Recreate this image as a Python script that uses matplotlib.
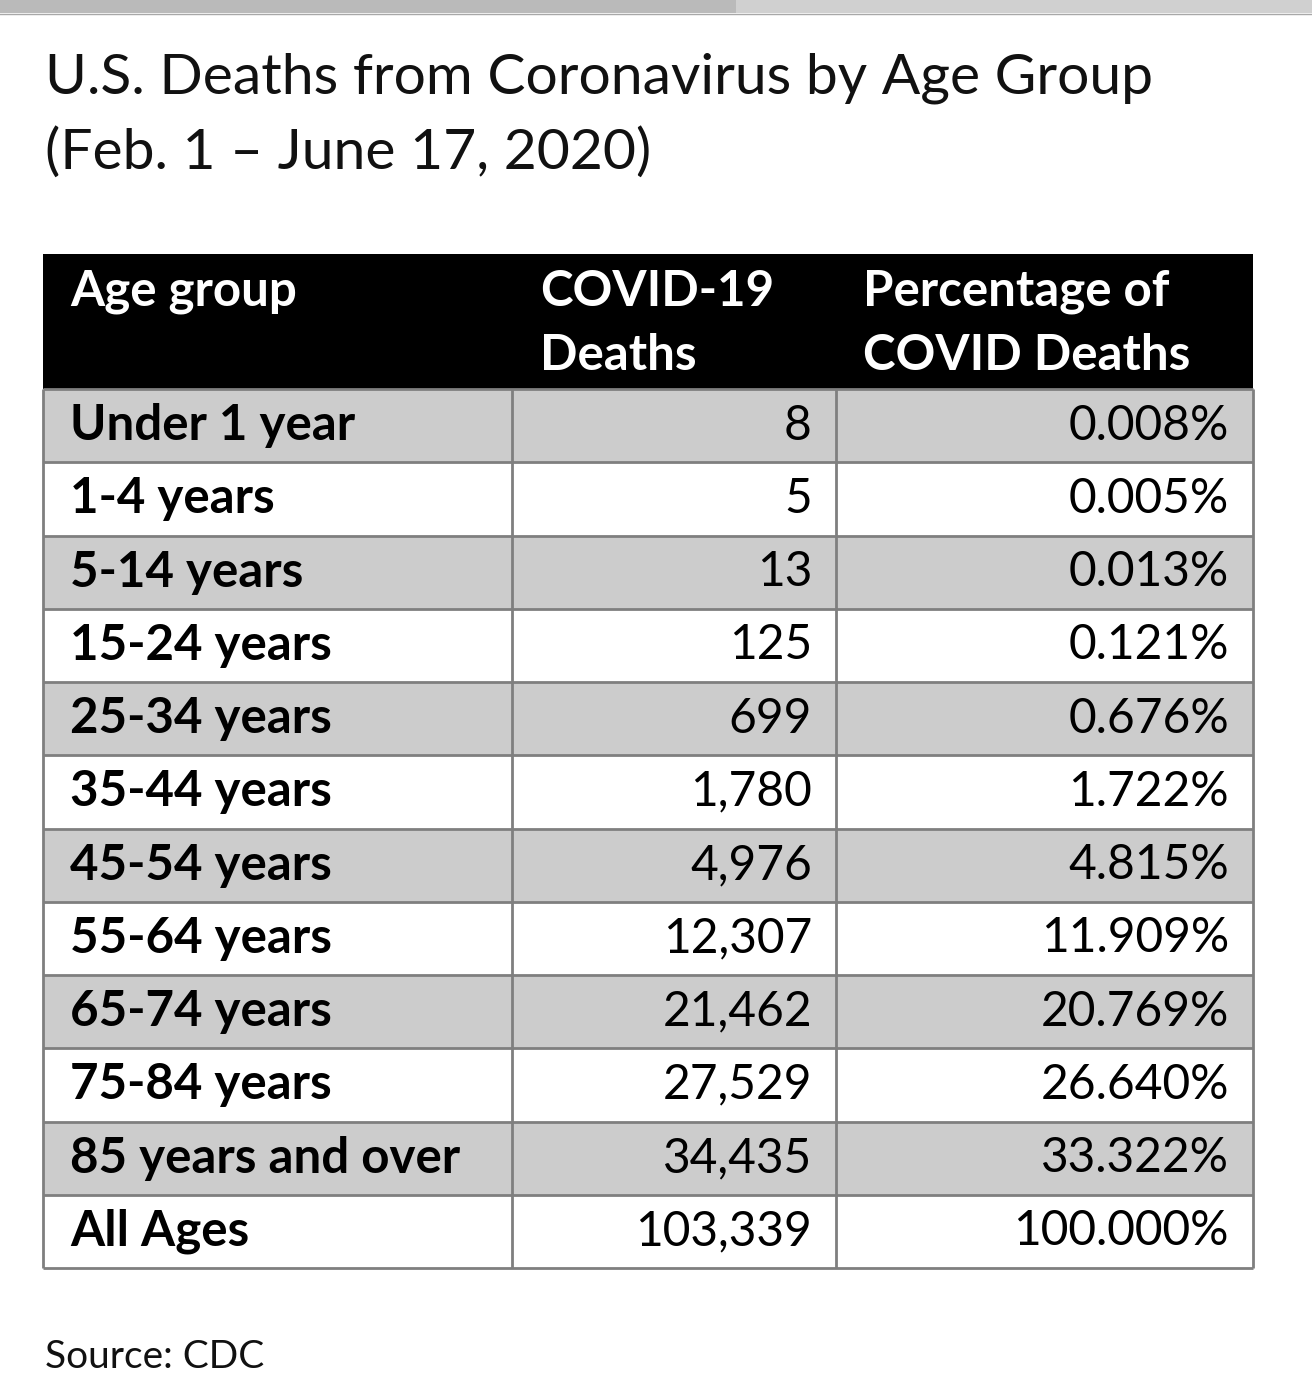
import matplotlib
matplotlib.use("Agg")
import matplotlib.pyplot as plt
from matplotlib.patches import Rectangle

title_lines = ["U.S. Deaths from Coronavirus by Age Group", "(Feb. 1 \u2013 June 17, 2020)"]
headers = [["Age group"], ["COVID-19", "Deaths"], ["Percentage of", "COVID Deaths"]]
age_groups = ["Under 1 year", "1-4 years", "5-14 years", "15-24 years", "25-34 years",
              "35-44 years", "45-54 years", "55-64 years", "65-74 years", "75-84 years",
              "85 years and over", "All Ages"]
deaths = [8, 5, 13, 125, 699, 1780, 4976, 12307, 21462, 27529, 34435, 103339]
pct = [0.008, 0.005, 0.013, 0.121, 0.676, 1.722, 4.815, 11.909, 20.769, 26.640, 33.322, 100.000]
source = "Source: CDC"

FONT = "Lato"
W, H = 1312, 1398
fig = plt.figure(figsize=(W / 100, H / 100), dpi=100)
ax = fig.add_axes([0, 0, 1, 1])
ax.set_xlim(0, W)
ax.set_ylim(H, 0)
ax.axis("off")

# top strip
ax.add_patch(Rectangle((0, 0), 736, 13, color="#bababa", lw=0))
ax.add_patch(Rectangle((736, 0), W - 736, 13, color="#d0d0d0", lw=0))
ax.plot([0, W], [13.5, 13.5], color="#a8a8a8", lw=1)

# title
for i, line in enumerate(title_lines):
    ax.text(45, 78 + i * 75, line, fontsize=41, family=FONT, va="center", ha="left", color="#111111")

x0, x1, x2, x3 = 43, 512, 836, 1253
hdr_top, hdr_bot = 254, 389
row_h = (1268 - 389) / len(age_groups)

# header
ax.add_patch(Rectangle((x0, hdr_top), x3 - x0, hdr_bot - hdr_top, facecolor="black", edgecolor="none"))
hx = [70, 540, 863]
for col, lines in enumerate(headers):
    for j, t in enumerate(lines):
        ax.text(hx[col], 292 + j * 64, t, fontsize=35.5, family=FONT, weight="bold",
                color="white", va="center", ha="left")

# rows
for i, (g, d, p) in enumerate(zip(age_groups, deaths, pct)):
    top = hdr_bot + i * row_h
    fc = "#cccccc" if i % 2 == 0 else "white"
    ax.add_patch(Rectangle((x0, top), x3 - x0, row_h, facecolor=fc, edgecolor="none"))
    cy = top + row_h / 2
    ax.text(70, cy, g, fontsize=35.5, family=FONT, weight="bold", va="center", ha="left", color="black")
    ax.text(812, cy, f"{d:,}", fontsize=34.5, family=FONT, va="center", ha="right", color="black")
    ax.text(1229, cy, f"{p:.3f}%", fontsize=34.5, family=FONT, va="center", ha="right", color="black")

# grid lines
gc = "#7f7f7f"
bottom = hdr_bot + len(age_groups) * row_h
for i in range(len(age_groups) + 1):
    y = hdr_bot + i * row_h
    ax.plot([x0, x3], [y, y], color=gc, lw=2, solid_capstyle="butt")
for x in (x0, x1, x2, x3):
    ax.plot([x, x], [hdr_bot, bottom], color=gc, lw=2, solid_capstyle="butt")

ax.text(45, 1357, source, fontsize=28, family=FONT, va="center", ha="left", color="#111111")

fig.savefig("out.png", dpi=100)
